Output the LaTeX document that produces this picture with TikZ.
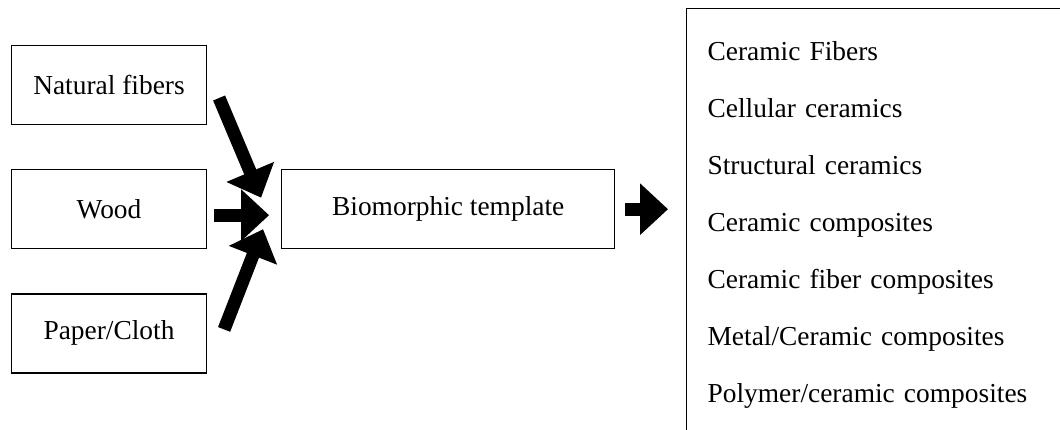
\documentclass[tikz,border=0pt]{standalone}
\usepackage{fontspec}
\setmainfont{Liberation Serif}
\usetikzlibrary{positioning,calc,arrows.meta}
\newlength\unitpx
\setlength\unitpx{0.02cm}
\begin{document}
\begin{tikzpicture}[x=\unitpx, y=-\unitpx,
srcnode/.style={rectangle, draw=black, line width=1.2\unitpx, minimum width=195\unitpx, minimum height=79\unitpx, inner sep=0pt, font=\fontsize{15.6}{18}\selectfont},
tmplnode/.style={srcnode, minimum width=333\unitpx},
listnode/.style={rectangle, draw=black, line width=1.2\unitpx, anchor=north west, align=left, text width=400\unitpx, inner xsep=21\unitpx, inner ysep=33\unitpx, font=\fontsize{15.6}{32.4}\selectfont},
fatarrow/.style={line width=0.26cm, -{Triangle[width=1cm, length=0.56cm]}}
]
\useasboundingbox (0,0) rectangle (1060,429);
%Nodes
\node[srcnode]  (nat)   at (109,85)                {Natural fibers};
\node[srcnode]  (wood)  [below=44\unitpx of nat]   {Wood};
\node[srcnode]  (paper) [below=44\unitpx of wood]  {Paper/Cloth};
\node[tmplnode] (bio)   [right=74\unitpx of wood]  {Biomorphic template};
\node[listnode] (out)   at (686,8) {Ceramic Fibers\\ Cellular ceramics\\ Structural ceramics\\ Ceramic composites\\ Ceramic fiber composites\\ Metal/Ceramic composites\\ Polymer/ceramic composites};
%Lines
\draw[fatarrow] ([xshift=12\unitpx, yshift=-13\unitpx]nat.east) -- ([xshift=-20\unitpx, yshift=11.5\unitpx]bio.west);
\draw[fatarrow] ([xshift=7\unitpx, yshift=-6\unitpx]wood.east) -- ([xshift=-12\unitpx, yshift=-6\unitpx]bio.west);
\draw[fatarrow] ([xshift=17\unitpx, yshift=4\unitpx]paper.east) -- ([xshift=-18\unitpx, yshift=-20\unitpx]bio.west);
\draw[fatarrow] ([xshift=10\unitpx]bio.east) -- ($(bio.east -| out.west)+(-18,0)$);
\end{tikzpicture}
\end{document}
